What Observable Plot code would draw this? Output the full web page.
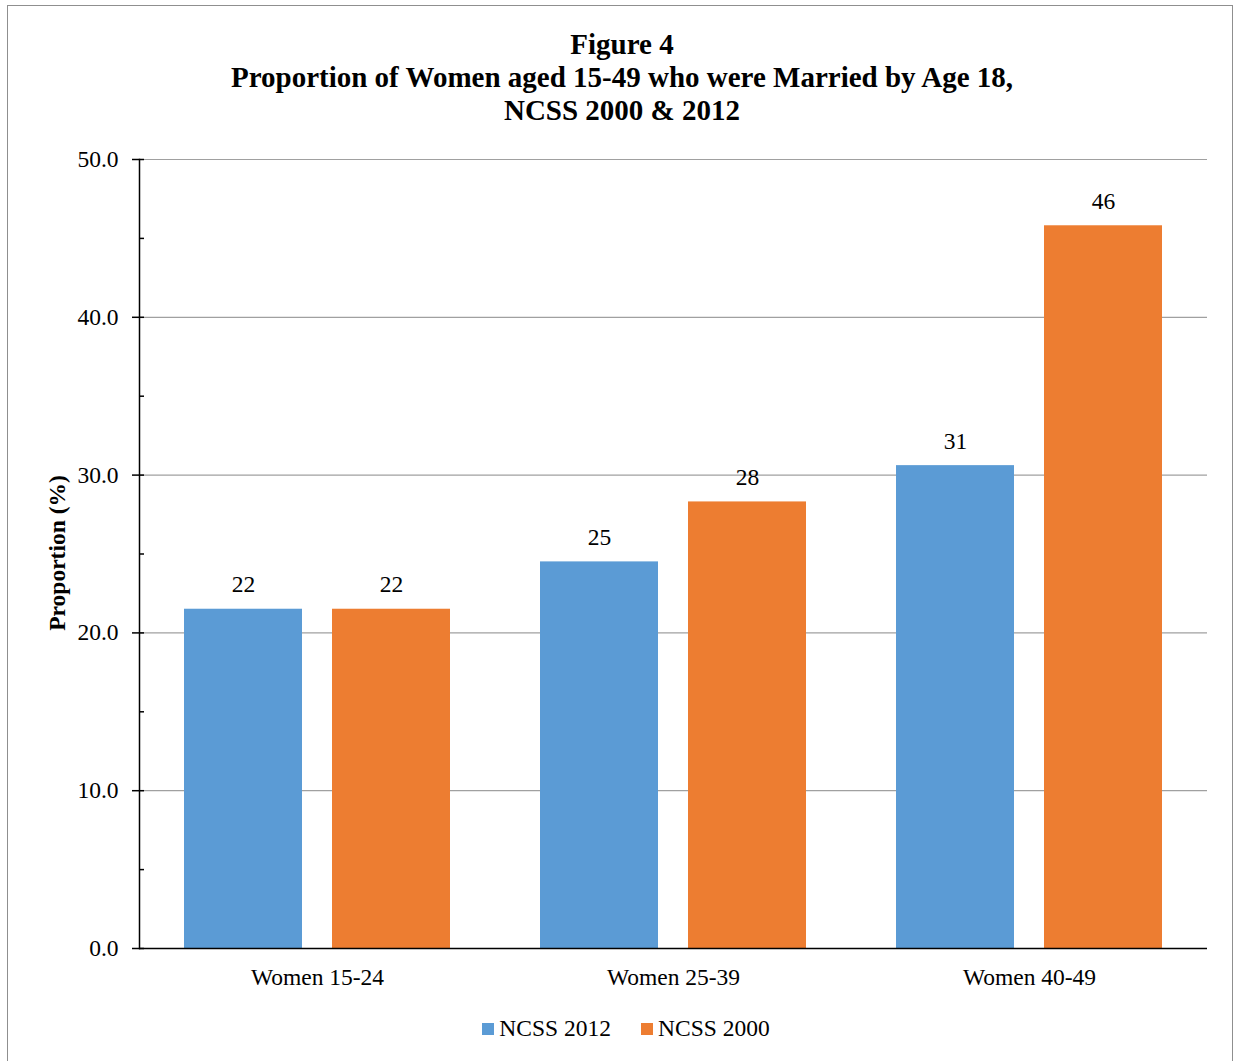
<!DOCTYPE html>
<html><head><meta charset="utf-8">
<script src="https://cdn.jsdelivr.net/npm/d3@7"></script>
<script src="https://cdn.jsdelivr.net/npm/@observablehq/plot@0.6"></script>
<style>
body{margin:0;background:#fff;font-family:"Liberation Serif","Times New Roman",serif;}
#wrap{position:relative;width:1233px;height:1061px;overflow:hidden;background:#fff;}
#border{position:absolute;left:7px;top:5px;width:1226px;height:1070px;border:1.5px solid #8f8f8f;box-sizing:border-box;}
#title{position:absolute;left:8px;width:1228px;top:28px;text-align:center;font-weight:bold;font-size:29px;line-height:33px;color:#000;}
#chart{position:absolute;left:0;top:0;}
#ylabel{position:absolute;left:57px;top:553px;transform:translate(-50%,-50%) rotate(-90deg);font-weight:bold;font-size:23.5px;white-space:nowrap;}
#legend{position:absolute;left:0;width:1252px;top:1015px;display:flex;justify-content:center;gap:30px;font-size:23.5px;}
#legend .item{display:flex;align-items:center;}
#legend .sw{width:12px;height:12px;margin-right:5px;}
</style>
</head><body>
<div id="wrap">
  <div id="border"></div>
  <div id="title">Figure 4<br>Proportion of Women aged 15-49 who were Married by Age 18,<br>NCSS 2000 &amp; 2012</div>
  <div id="chart"></div>
  <div id="ylabel">Proportion (%)</div>
  <div id="legend"></div>
</div>
<script>
const categories = ["Women 15-24", "Women 25-39", "Women 40-49"];
const series = ["NCSS 2012", "NCSS 2000"];
const values2012 = [21.5, 24.5, 30.6];
const values2000 = [21.5, 28.3, 45.8];
const colors = ["#5B9BD5", "#ED7D31"];
const majorTicks = [0, 10, 20, 30, 40, 50];
const minorTicks = [5, 15, 25, 35, 45];

const data = [];
categories.forEach((c, i) => {
  data.push({cat: c, series: series[0], value: values2012[i]});
  data.push({cat: c, series: series[1], value: values2000[i]});
});

const font = '"Liberation Serif","Times New Roman",serif';
const chart = Plot.plot({
  width: 1233,
  height: 1000,
  marginTop: 159,
  marginLeft: 139,
  marginRight: 26,
  marginBottom: 52,
  style: {fontFamily: font, fontSize: "23.5px", color: "#000", background: "transparent"},
  fx: {domain: categories, padding: 0},
  x: {domain: series, paddingInner: 0.2, paddingOuter: 0.3, axis: null},
  y: {domain: [0, 50]},
  color: {domain: series, range: colors},
  marks: [
    Plot.gridY(majorTicks.slice(1), {stroke: "#a0a0a0", strokeOpacity: 1, strokeWidth: 1.2}),
    Plot.barY(data, {fx: "cat", x: "series", y: "value", fill: "series"}),
    Plot.text(data, {fx: "cat", x: "series", y: "value", text: d => d3.format(".0f")(d.value),
      lineAnchor: "bottom", dy: -17, fontSize: 23.5, fill: "#000"}),
    Plot.ruleY([0], {stroke: "#000", strokeWidth: 1.5}),
    Plot.frame({anchor: "left", facetAnchor: "left", stroke: "#000", strokeWidth: 1.5}),
    Plot.axisY(majorTicks, {tickSize: 12, dx: 5, tickPadding: 14, tickFormat: d3.format(".1f"),
      label: null, strokeWidth: 1.5, fill: "#000"}),
    Plot.axisY(minorTicks, {tickSize: 5, dx: 5, text: null, label: null, strokeWidth: 1.5}),
    Plot.axisFx({anchor: "bottom", tickSize: 0, tickPadding: 20, label: null, fill: "#000"})
  ]
});
document.getElementById("chart").appendChild(chart);

const legend = document.getElementById("legend");
series.forEach((s, i) => {
  const item = document.createElement("div");
  item.className = "item";
  const sw = document.createElement("span");
  sw.className = "sw";
  sw.style.background = colors[i];
  const t = document.createElement("span");
  t.textContent = s;
  item.appendChild(sw); item.appendChild(t);
  legend.appendChild(item);
});
</script>
</body></html>
